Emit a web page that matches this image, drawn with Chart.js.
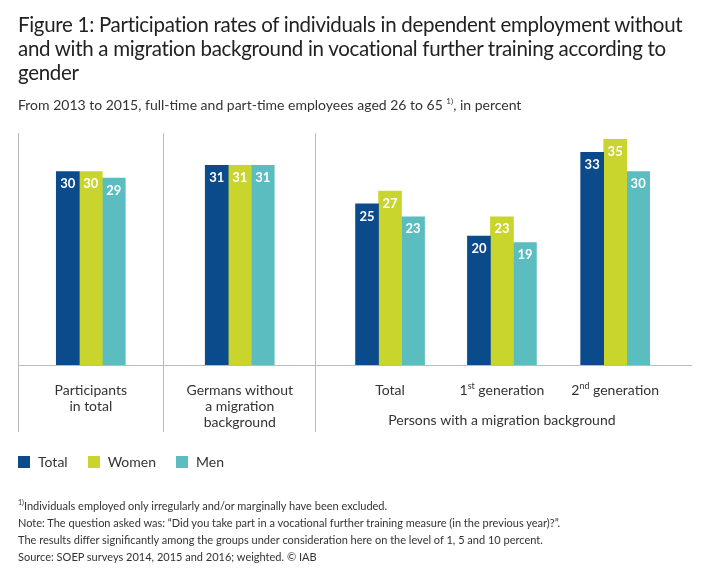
<!DOCTYPE html>
<html><head><meta charset="utf-8">
<script src="https://cdn.jsdelivr.net/npm/chart.js"></script>
<style>
body{margin:0;width:711px;height:580px;background:#fff;font-family:Lato,"Open Sans",sans-serif;color:#222;position:relative;overflow:hidden}
#c{position:absolute;left:0;top:0}
.t{position:absolute;left:18px;top:12px;width:690px;font-size:20.5px;line-height:24px;color:#222;letter-spacing:-0.3px}
.s{position:absolute;left:18px;top:96px;font-size:14px;color:#333}
.lg{position:absolute;left:18px;top:453px;font-size:14px;color:#333}
.lg span{display:inline-block;margin-right:20px}
.lg i{display:inline-block;width:12px;height:12px;margin-right:8px;vertical-align:-1px}
.f{position:absolute;left:18px;top:494px;font-size:11px;line-height:17px;color:#333}
</style></head><body>
<canvas id="c" width="711" height="580"></canvas>
<div class="t">Figure 1: Participation rates of individuals in dependent employment without and with a migration background in vocational further training according to gender</div>
<div class="s">From 2013 to 2015, full-time and part-time employees aged 26 to 65 <sup style="font-size:8px">1)</sup>, in percent</div>
<div class="lg"><span><i style="background:#0b4a8b"></i>Total</span><span><i style="background:#c9d52c"></i>Women</span><span><i style="background:#5bbdbf"></i>Men</span></div>
<div class="f"><sup style="font-size:7px">1)</sup>Individuals employed only irregularly and/or marginally have been excluded.<br>Note: The question asked was: “Did you take part in a vocational further training measure (in the previous year)?”.<br>The results differ significantly among the groups under consideration here on the level of 1, 5 and 10 percent.<br>Source: SOEP surveys 2014, 2015 and 2016; weighted. © IAB</div>
<script>
const positions=[10.8,32.9,55.2,71.8,88.6];
const separators=[0,21.5,44.1];
const totalVals=[30,31,25,20,33];
const womenVals=[30,31,27,23,35];
const menVals=[29,31,23,19,30];
const labels=[["Participants","in total"],["Germans without","a migration","background"],["Total"],["1|st| generation"],["2|nd| generation"]];
const groupLabel="Persons with a migration background";
const mk=(v)=>v.map((y,i)=>({x:positions[i],y}));
const deco={id:'deco',
 beforeDatasetsDraw(ch){const c=ch.ctx,x=ch.scales.x,y=ch.scales.y;c.save();c.strokeStyle='#bbb';c.lineWidth=1;
  separators.forEach(s=>{const px=Math.round(x.getPixelForValue(s))+0.5;c.beginPath();c.moveTo(px,133);c.lineTo(px,432);c.stroke();});
  const by=Math.round(y.getPixelForValue(0))+0.5;c.beginPath();c.moveTo(18,by);c.lineTo(692,by);c.stroke();c.restore();},
 afterDatasetsDraw(ch){const c=ch.ctx,x=ch.scales.x;c.save();c.fillStyle='#333';c.textAlign='center';c.textBaseline='alphabetic';
  labels.forEach((l,i)=>{const px=x.getPixelForValue(positions[i]);l.forEach((line,j)=>{const yy=395+j*16;
   if(line.includes('|')){const p=line.split('|');c.font='14px Lato';const w0=c.measureText(p[0]).width,w2=c.measureText(p[2]).width;c.font='9px Lato';const w1=c.measureText(p[1]).width;let sx=px-(w0+w1+w2)/2;c.textAlign='left';c.font='14px Lato';c.fillText(p[0],sx,yy);c.font='9px Lato';c.fillText(p[1],sx+w0,yy-6);c.font='14px Lato';c.fillText(p[2],sx+w0+w1,yy);c.textAlign='center';}
   else{c.font='14px Lato';c.fillText(line,px,yy);}});});
  c.font='14px Lato';c.fillText(groupLabel,x.getPixelForValue(positions[3]),425);
  c.fillStyle='#fff';c.font='bold 13px Lato';c.textBaseline='top';
  ch.data.datasets.forEach((d,di)=>{ch.getDatasetMeta(di).data.forEach((b,i)=>{c.fillText(d.data[i].y,b.x,b.y+6);});});
  c.restore();}};
new Chart(document.getElementById('c'),{type:'bar',
 data:{datasets:[{label:'Total',data:mk(totalVals),backgroundColor:'#0b4a8b'},{label:'Women',data:mk(womenVals),backgroundColor:'#c9d52c'},{label:'Men',data:mk(menVals),backgroundColor:'#5bbdbf'}]},
 options:{responsive:false,animation:false,barThickness:23,layout:{padding:{left:18,right:19,top:133,bottom:215}},
  plugins:{legend:{display:false},tooltip:{enabled:false}},
  scales:{x:{type:'linear',min:0,max:100,display:false,offset:false},y:{min:0,max:36,display:false}}},
 plugins:[deco]});
</script></body></html>
